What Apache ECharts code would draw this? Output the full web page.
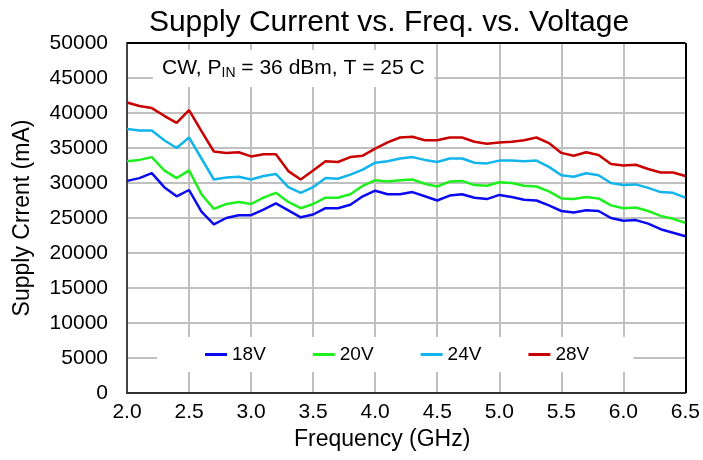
<!DOCTYPE html>
<html>
<head>
<meta charset="utf-8">
<script src="https://cdn.jsdelivr.net/npm/echarts@6/dist/echarts.min.js"></script>
<style>
  html, body { margin: 0; padding: 0; background: #fff; }
  #chart { width: 703px; height: 460px; }
</style>
</head>
<body>
<div id="chart"></div>
<script>
// frequency points, GHz
var freq = [2.0, 2.1, 2.2, 2.3, 2.4, 2.5, 2.6, 2.7, 2.8, 2.9, 3.0, 3.1, 3.2, 3.3, 3.4, 3.5,
  3.6, 3.7, 3.8, 3.9, 4.0, 4.1, 4.2, 4.3, 4.4, 4.5, 4.6, 4.7, 4.8, 4.9, 5.0,
  5.1, 5.2, 5.3, 5.4, 5.5, 5.6, 5.7, 5.8, 5.9, 6.0, 6.1, 6.2, 6.3, 6.4, 6.5];

var v18 = [30300, 30700, 31400, 29400, 28100, 29000, 25900, 24100, 25000, 25400, 25400, 26200, 27100, 26100, 25100, 25500,
  26400, 26400, 26900, 28100, 28900, 28400, 28400, 28700, 28100, 27500, 28200, 28400, 27900, 27700, 28300,
  28000, 27600, 27500, 26800, 26000, 25800, 26100, 26000, 25000, 24600, 24700, 24200, 23400, 22900, 22400];
var v20 = [33100, 33300, 33700, 31800, 30700, 31800, 28400, 26300, 27000, 27300, 27000, 27900, 28600, 27300, 26400, 27000,
  27900, 27900, 28400, 29600, 30400, 30200, 30400, 30500, 29900, 29500, 30200, 30300, 29700, 29600, 30100,
  30000, 29600, 29500, 28800, 27800, 27700, 28000, 27800, 26800, 26400, 26500, 26000, 25300, 24900, 24300];
var v24 = [37700, 37500, 37500, 36100, 35000, 36500, 33500, 30500, 30800, 30900, 30500, 31000, 31300, 29400, 28600, 29400,
  30700, 30600, 31200, 31900, 32900, 33100, 33500, 33700, 33300, 33000, 33500, 33500, 32900, 32800, 33200,
  33200, 33100, 33200, 32300, 31100, 30900, 31400, 31100, 30000, 29700, 29800, 29300, 28700, 28600, 27900];
var v28 = [41500, 41000, 40700, 39600, 38600, 40400, 37400, 34500, 34300, 34400, 33800, 34100, 34100, 31700, 30500, 31800,
  33100, 33000, 33700, 33900, 34900, 35800, 36500, 36600, 36100, 36100, 36500, 36500, 35900, 35600, 35800,
  35900, 36100, 36500, 35700, 34300, 33900, 34400, 34000, 32700, 32500, 32600, 32000, 31500, 31500, 31000];

var seriesNames = ['18V', '20V', '24V', '28V'];
var seriesColors = ['#0a0af0', '#1ef01e', '#12b4ec', '#c80000'];
var seriesData = [v18, v20, v24, v28];

function pairs(vals) {
  return vals.map(function (v, i) { return [freq[i], v]; });
}

var chart = echarts.init(document.getElementById('chart'));
var font = 'Liberation Sans, Arial, sans-serif';

var series = seriesNames.map(function (name, k) {
  return {
    name: name,
    type: 'line',
    data: pairs(seriesData[k]),
    showSymbol: false,
    smooth: false,
    z: 3 + k,
    lineStyle: { color: seriesColors[k], width: 2.5 },
    itemStyle: { color: seriesColors[k] }
  };
});

// plot frame on top and right
series.push({
  type: 'line',
  data: [],
  markLine: {
    silent: true,
    symbol: 'none',
    label: { show: false },
    lineStyle: { color: '#000', width: 2, type: 'solid' },
    data: [{ yAxis: 50000 }, { xAxis: 6.5 }]
  }
});

chart.setOption({
  animation: false,
  backgroundColor: '#fff',
  title: {
    text: 'Supply Current vs. Freq. vs. Voltage',
    left: 384,
    textAlign: 'center',
    top: 3,
    textStyle: { fontFamily: font, fontSize: 30, fontWeight: 'normal', color: '#000' }
  },
  grid: { left: 127, right: 17, top: 43, bottom: 67 },
  legend: {
    data: seriesNames,
    left: 157,
    top: 337,
    itemWidth: 22,
    itemHeight: 3,
    itemGap: 47,
    icon: 'rect',
    backgroundColor: '#fff',
    padding: [8, 44, 8, 48],
    textStyle: { fontFamily: font, fontSize: 19, color: '#000' }
  },
  xAxis: {
    type: 'value',
    min: 2,
    max: 6.5,
    interval: 0.5,
    name: 'Frequency (GHz)',
    nameLocation: 'middle',
    nameGap: 35,
    nameTextStyle: { fontFamily: font, fontSize: 23, color: '#000', padding: [0, 48, 0, 0] },
    axisLine: { show: true, lineStyle: { color: '#333', width: 2 } },
    axisTick: { show: false },
    axisLabel: {
      fontFamily: font, fontSize: 21, color: '#000', margin: 9,
      formatter: function (v) { return v.toFixed(1); }
    },
    splitLine: { show: true, lineStyle: { color: '#c0c0c0', width: 2 } }
  },
  yAxis: {
    type: 'value',
    min: 0,
    max: 50000,
    interval: 5000,
    name: 'Supply Crrent (mA)',
    nameLocation: 'middle',
    nameGap: 93,
    nameTextStyle: { fontFamily: font, fontSize: 23, color: '#000' },
    axisLine: { show: true, lineStyle: { color: '#444', width: 2 } },
    axisTick: { show: false },
    axisLabel: {
      fontFamily: font, fontSize: 21, color: '#000', margin: 19,
      formatter: function (v) { return String(v); }
    },
    splitLine: { show: true, lineStyle: { color: '#c0c0c0', width: 2 } }
  },
  graphic: [{
    type: 'text',
    left: 153,
    top: 50,
    z: 10,
    style: {
      text: '{a|CW, P}{s|IN}{a| = 36 dBm, T = 25 C}',
      backgroundColor: '#fff',
      padding: [7, 10, 7, 9],
      rich: {
        a: { fontFamily: font, fontSize: 21, fill: '#000', lineHeight: 23 },
        s: { fontFamily: font, fontSize: 14, fill: '#000', lineHeight: 23, verticalAlign: 'bottom', padding: [7, 0, 0, 0] }
      }
    }
  }],
  series: series
});
</script>
</body>
</html>
